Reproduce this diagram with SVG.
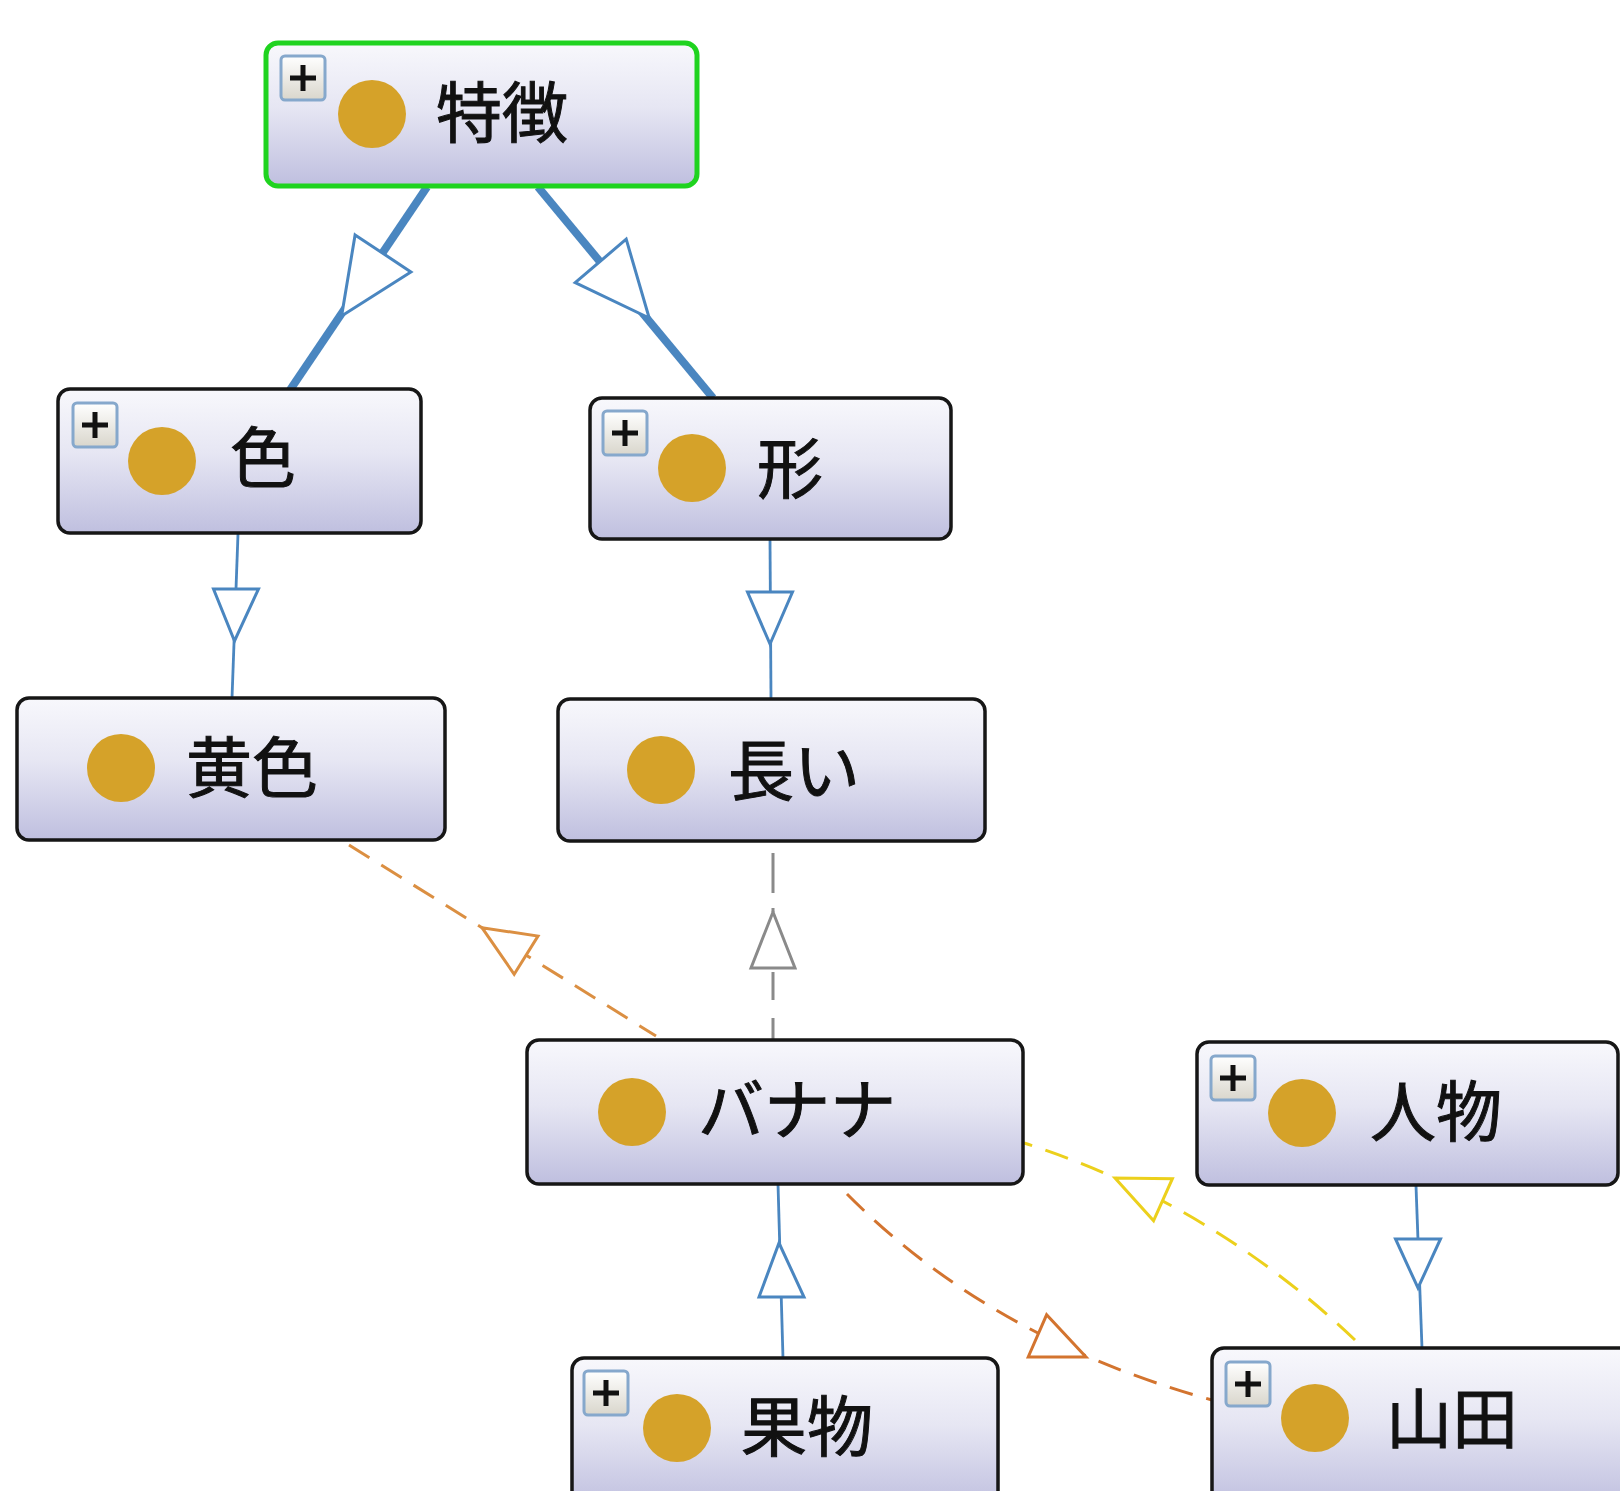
<svg xmlns="http://www.w3.org/2000/svg" width="1620" height="1491" viewBox="0 0 1620 1491">
  <defs>
    <linearGradient id="nodeFill" x1="0" y1="0" x2="0" y2="1">
      <stop offset="0" stop-color="#f8f8fc"/>
      <stop offset="0.45" stop-color="#e6e6f3"/>
      <stop offset="1" stop-color="#bfbfdf"/>
    </linearGradient>
    <linearGradient id="btnFill" x1="0" y1="0" x2="0" y2="1">
      <stop offset="0" stop-color="#ffffff"/>
      <stop offset="1" stop-color="#d9d6cc"/>
    </linearGradient>
    <style>
      .box { fill: url(#nodeFill); stroke: #161616; stroke-width: 3.5; }
      .box.sel { stroke: #1fd31f; stroke-width: 5; }
      .btn { fill: url(#btnFill); stroke: #86a8cc; stroke-width: 3; }
      .plus { stroke: #111; stroke-width: 5; }
      .dot { fill: #d5a229; }
      .lbl { font-family: "Noto Sans CJK JP", "Noto Sans", sans-serif; font-size: 66px; fill: #111; stroke: #111; stroke-width: 1; dominant-baseline: central; }
      .isa { fill: none; stroke: #4a86c0; stroke-width: 2.8; }
      .isa.thick { stroke-width: 8; }
      .head { fill: #fff; stroke: #4a86c0; stroke-width: 3; stroke-linejoin: miter; }
      .rel { fill: none; stroke-width: 3; stroke-dasharray: 24 14; }
      .relhead { fill: #fff; stroke-width: 3; }
      .gray { stroke: #8a8a8a; }
      .orange { stroke: #db8f42; }
      .rust { stroke: #d3742f; }
      .yellow { stroke: #ecd01c; }
    </style>
  </defs>

  <rect width="1620" height="1491" fill="#ffffff"/>

  <g id="connectors">
    <!-- 特徴 -> 色 (thick subclass edge) -->
    <line class="isa thick" x1="427" y1="187" x2="290" y2="390"/>
    <polygon class="head" points="355.1,234.9 410.9,271.9 341.6,316"/>
    <!-- 特徴 -> 形 -->
    <line class="isa thick" x1="538" y1="187" x2="713" y2="398"/>
    <polygon class="head" points="626.2,239.2 575.2,282.6 649.2,318"/>
    <!-- 色 -> 黄色 -->
    <line class="isa" x1="238" y1="534" x2="232" y2="698"/>
    <polygon class="head" points="213.5,589 258.5,589 234.5,641"/>
    <!-- 形 -> 長い -->
    <line class="isa" x1="770" y1="540" x2="771" y2="699"/>
    <polygon class="head" points="747.5,592 792.5,592 770,644"/>
    <!-- 果物 -> バナナ -->
    <line class="isa" x1="783" y1="1358" x2="778" y2="1184"/>
    <polygon class="head" points="759,1297 804,1297 779,1243"/>
    <!-- 人物 -> 山田 -->
    <line class="isa" x1="1416" y1="1186" x2="1422" y2="1348"/>
    <polygon class="head" points="1395.5,1239 1440.5,1239 1418,1288"/>

    <!-- バナナ -> 長い (gray dashed) -->
    <line class="rel gray" x1="773" y1="853" x2="773" y2="912" style="stroke-dasharray:40 15"/>
    <line class="rel gray" x1="773" y1="972" x2="773" y2="1040" style="stroke-dasharray:28 18"/>
    <polygon class="relhead gray" points="751,968 795,968 773,912"/>

    <!-- バナナ -> 黄色 (orange dashed) -->
    <line class="rel orange" x1="349" y1="845" x2="656" y2="1036"/>
    <polygon class="relhead orange" points="514.2,974.3 538,936.1 482,927.7"/>

    <!-- バナナ -> 山田 (curved, rust dashed) -->
    <path class="rel rust" d="M847 1194 Q990.5 1339 1212 1400"/>
    <polygon class="relhead rust" points="1028.2,1357 1046.6,1314.8 1086,1357"/>

    <!-- 山田 -> バナナ (curved, yellow dashed) -->
    <path class="rel yellow" d="M1355 1340 Q1210.5 1202.5 1024 1143"/>
    <polygon class="relhead yellow" points="1153.6,1220.7 1172.4,1178.7 1115,1178"/>
  </g>

  <g id="node-tokuchou">
    <rect class="box sel" x="266" y="43" width="431" height="143" rx="12"/>
    <rect class="btn" x="281" y="56" width="44" height="44" rx="4"/>
    <path class="plus" d="M290 78 H316 M303 65 V91"/>
    <circle class="dot" cx="372" cy="114" r="34"/>
    <text class="lbl" x="436" y="108">特徴</text>
  </g>

  <g id="node-iro">
    <rect class="box" x="58" y="389" width="363" height="144" rx="12"/>
    <rect class="btn" x="73" y="403" width="44" height="44" rx="4"/>
    <path class="plus" d="M82 425 H108 M95 412 V438"/>
    <circle class="dot" cx="162" cy="461" r="34"/>
    <text class="lbl" x="230" y="453">色</text>
  </g>

  <g id="node-katachi">
    <rect class="box" x="590" y="398" width="361" height="141" rx="12"/>
    <rect class="btn" x="603" y="411" width="44" height="44" rx="4"/>
    <path class="plus" d="M612 433 H638 M625 420 V446"/>
    <circle class="dot" cx="692" cy="468" r="34"/>
    <text class="lbl" x="757" y="464">形</text>
  </g>

  <g id="node-kiiro">
    <rect class="box" x="17" y="698" width="428" height="142" rx="12"/>
    <circle class="dot" cx="121" cy="768" r="34"/>
    <text class="lbl" x="186" y="763">黄色</text>
  </g>

  <g id="node-nagai">
    <rect class="box" x="558" y="699" width="427" height="142" rx="12"/>
    <circle class="dot" cx="661" cy="770" r="34"/>
    <text class="lbl" x="728" y="766">長い</text>
  </g>

  <g id="node-banana">
    <rect class="box" x="527" y="1040" width="496" height="144" rx="12"/>
    <circle class="dot" cx="632" cy="1112" r="34"/>
    <text class="lbl" x="698" y="1105">バナナ</text>
  </g>

  <g id="node-jinbutsu">
    <rect class="box" x="1197" y="1042" width="421" height="143" rx="12"/>
    <rect class="btn" x="1211" y="1056" width="44" height="44" rx="4"/>
    <path class="plus" d="M1220 1078 H1246 M1233 1065 V1091"/>
    <circle class="dot" cx="1302" cy="1113" r="34"/>
    <text class="lbl" x="1370" y="1107">人物</text>
  </g>

  <g id="node-yamada">
    <rect class="box" x="1212" y="1348" width="430" height="160" rx="12"/>
    <rect class="btn" x="1226" y="1362" width="44" height="44" rx="4"/>
    <path class="plus" d="M1235 1384 H1261 M1248 1371 V1397"/>
    <circle class="dot" cx="1315" cy="1418" r="34"/>
    <text class="lbl" x="1386" y="1414">山田</text>
  </g>

  <g id="node-kudamono">
    <rect class="box" x="572" y="1358" width="426" height="150" rx="12"/>
    <rect class="btn" x="584" y="1371" width="44" height="44" rx="4"/>
    <path class="plus" d="M593 1393 H619 M606 1380 V1406"/>
    <circle class="dot" cx="677" cy="1428" r="34"/>
    <text class="lbl" x="741" y="1422">果物</text>
  </g>
</svg>
